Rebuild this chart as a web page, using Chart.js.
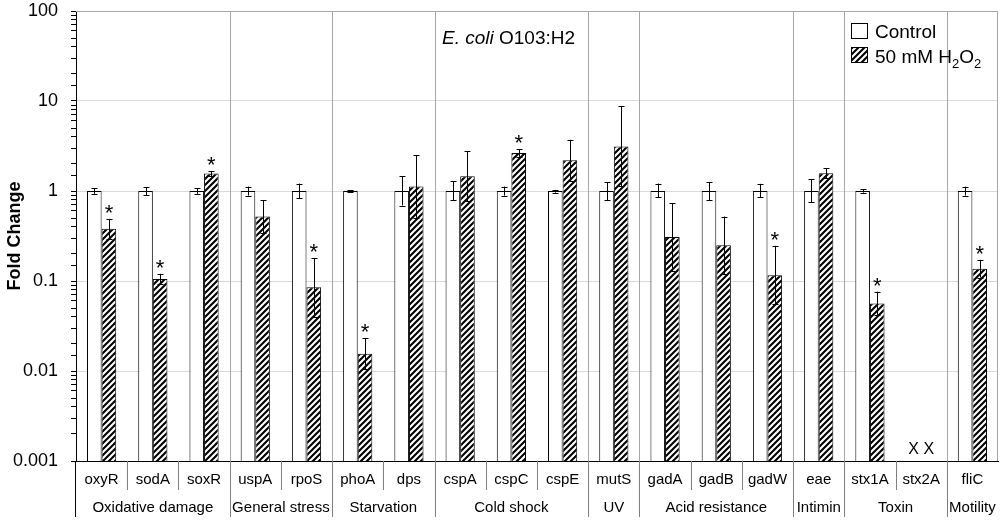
<!DOCTYPE html>
<html><head><meta charset="utf-8">
<script src="https://cdn.jsdelivr.net/npm/chart.js@4.4.0/dist/chart.umd.min.js"></script>
<style>html,body{margin:0;padding:0;background:#fff;}#wrap{width:1000px;height:520px;position:relative;}</style>
</head><body><div id="wrap"><canvas id="c" width="1000" height="520"></canvas></div>
<script>
const genes = ['oxyR','sodA','soxR','uspA','rpoS','phoA','dps','cspA','cspC','cspE','mutS','gadA','gadB','gadW','eae','stx1A','stx2A','fliC'];
const groupNames = ['Oxidative damage','General stress','Starvation','Cold shock','UV','Acid resistance','Intimin','Toxin','Motility'];
const groupSizes = [3,2,2,3,1,3,1,2,1];
const control     = [1,1,1,1,1,1,1,1,1,1,1,1,1,1,1,1,null,1];
const controlHigh = [1.07,1.10,1.07,1.12,1.21,1.02,1.45,1.29,1.12,1.03,1.25,1.21,1.26,1.20,1.36,1.04,null,1.12];
const controlLow  = [0.93,0.90,0.93,0.89,0.83,0.98,0.69,0.79,0.89,0.96,0.79,0.85,0.79,0.85,0.75,0.96,null,0.89];
const h2o2     = [0.38,0.105,1.56,0.52,0.085,0.0155,1.12,1.46,2.64,2.20,3.13,0.308,0.25,0.116,1.57,0.0563,null,0.137];
const h2o2High = [0.49,0.12,1.67,0.79,0.18,0.023,2.49,2.78,2.92,3.71,8.7,0.73,0.52,0.246,1.78,0.076,null,0.172];
const h2o2Low  = [0.295,0.092,1.46,0.342,0.040,0.0104,0.504,0.77,2.39,1.30,1.13,0.13,0.12,0.055,1.38,0.042,null,0.109];
const significant = [true,true,true,false,true,true,false,false,true,false,false,false,false,true,false,true,false,true];
const missingMark = [false,false,false,false,false,false,false,false,false,false,false,false,false,false,false,false,true,false];
const yTickLabels = ['0.001','0.01','0.1','1','10','100'];
const FONT = '"Liberation Sans", Arial, sans-serif';

function makeHatch(){
  const s = 6, c = document.createElement('canvas');
  c.width = s; c.height = s;
  const g = c.getContext('2d');
  g.fillStyle = '#fff'; g.fillRect(0,0,s,s);
  g.strokeStyle = '#000'; g.lineWidth = 2.1;
  g.beginPath();
  g.moveTo(-1, s+1); g.lineTo(s+1, -1);
  g.moveTo(-2, 2); g.lineTo(2, -2);
  g.moveTo(s-2, s+2); g.lineTo(s+2, s-2);
  g.stroke();
  return g.createPattern(c, 'repeat');
}
const ctx = document.getElementById('c').getContext('2d');
const hatch = makeHatch();

function isDecade(v){ const l = Math.log10(v); return Math.abs(l - Math.round(l)) < 1e-6; }

const deco = {
  id: 'deco',
  beforeDatasetsDraw(chart){
    const c = chart.ctx, a = chart.chartArea;
    const w = (a.right - a.left) / genes.length;
    c.save();
    c.lineWidth = 1;
    c.strokeStyle = '#a6a6a6';
    c.beginPath();
    c.moveTo(a.left, a.top + 0.5); c.lineTo(a.right, a.top + 0.5);
    c.moveTo(a.right - 0.5, a.top); c.lineTo(a.right - 0.5, a.bottom);
    c.stroke();
    let idx = 0;
    for (let g = 0; g < groupSizes.length - 1; g++){
      idx += groupSizes[g];
      const px = Math.round(a.left + idx * w) + 0.5;
      c.beginPath(); c.moveTo(px, a.top); c.lineTo(px, a.bottom); c.stroke();
    }
    c.restore();
  },
  afterDatasetsDraw(chart){
    const c = chart.ctx, y = chart.scales.y;
    c.save();
    c.strokeStyle = '#000'; c.lineWidth = 1;
    const sets = [[controlHigh, controlLow],[h2o2High, h2o2Low]];
    sets.forEach((s, di) => {
      const meta = chart.getDatasetMeta(di);
      meta.data.forEach((el, j) => {
        if (s[0][j] == null) return;
        const px = Math.round(el.x) + 0.5;
        const yh = y.getPixelForValue(s[0][j]);
        const yl = y.getPixelForValue(s[1][j]);
        c.beginPath();
        c.moveTo(px, yl); c.lineTo(px, yh);
        c.moveTo(px - 3, Math.round(yh) + 0.5); c.lineTo(px + 3, Math.round(yh) + 0.5);
        c.moveTo(px - 3, Math.round(yl) + 0.5); c.lineTo(px + 3, Math.round(yl) + 0.5);
        c.stroke();
      });
    });
    const m1 = chart.getDatasetMeta(1);
    c.fillStyle = '#000';
    c.font = '22px ' + FONT;
    c.textAlign = 'center'; c.textBaseline = 'alphabetic';
    significant.forEach((s, j) => {
      if (!s) return;
      const yh = y.getPixelForValue(h2o2High[j]);
      c.fillText('*', m1.data[j].x, yh + 1);
    });
    const xs = chart.scales.x;
    c.font = '16px ' + FONT;
    c.textBaseline = 'middle';
    missingMark.forEach((mm, j) => {
      if (!mm) return;
      c.fillText('X X', xs.getPixelForValue(j), 450);
    });
    c.restore();
  },
  afterDraw(chart){
    const c = chart.ctx, a = chart.chartArea;
    const w = (a.right - a.left) / genes.length;
    c.save();
    c.strokeStyle = '#000'; c.lineWidth = 1;
    c.beginPath();
    c.moveTo(a.left - 0.5, a.bottom); c.lineTo(a.left - 0.5, 517);
    c.stroke();
    c.strokeStyle = '#7f7f7f';
    let idx = 0;
    for (let g = 0; g < groupSizes.length; g++){
      for (let k = 1; k < groupSizes[g]; k++){
        const px = Math.round(a.left + (idx + k) * w) + 0.5;
        c.beginPath(); c.moveTo(px, a.bottom); c.lineTo(px, 490); c.stroke();
      }
      idx += groupSizes[g];
      if (g < groupSizes.length - 1){
        const px = Math.round(a.left + idx * w) + 0.5;
        c.beginPath(); c.moveTo(px, a.bottom); c.lineTo(px, 517); c.stroke();
      }
    }
    c.fillStyle = '#000';
    c.font = '15px ' + FONT;
    c.textAlign = 'center'; c.textBaseline = 'middle';
    idx = 0;
    groupNames.forEach((n, g) => {
      const cx = a.left + (idx + groupSizes[g] / 2) * w;
      c.fillText(n, cx, 508);
      idx += groupSizes[g];
    });
    c.textAlign = 'left'; c.textBaseline = 'alphabetic';
    c.font = 'italic 19px ' + FONT;
    const e = 'E. coli';
    const ew = c.measureText(e).width;
    c.font = '19px ' + FONT;
    const sw = c.measureText(' ').width;
    const startX = 499 - sw - ew;
    c.font = 'italic 19px ' + FONT;
    c.fillText(e, startX, 44);
    c.font = '19px ' + FONT;
    c.fillText(' O103:H2', startX + ew, 44);
    c.lineWidth = 1; c.strokeStyle = '#000';
    c.fillStyle = '#fff';
    c.fillRect(851.5, 23.5, 16, 15); c.strokeRect(851.5, 23.5, 16, 15);
    c.fillStyle = hatch;
    c.fillRect(851.5, 47.5, 16, 15); c.strokeRect(851.5, 47.5, 16, 15);
    c.fillStyle = '#000';
    c.font = '19px ' + FONT;
    c.fillText('Control', 875, 38);
    let tx = 875;
    const parts = [['50 mM H', false], ['2', true], ['O', false], ['2', true]];
    parts.forEach(([t, sub]) => {
      c.font = (sub ? '13px ' : '19px ') + FONT;
      c.fillText(t, tx, sub ? 68 : 63);
      tx += c.measureText(t).width;
    });
    c.restore();
  }
};

new Chart(ctx, {
  type: 'bar',
  data: {
    labels: genes,
    datasets: [
      { label: 'Control', data: control, backgroundColor: '#fff', borderColor: '#000', borderWidth: 1,
        categoryPercentage: 0.57, barPercentage: 1.0 },
      { label: '50 mM H2O2', data: h2o2, backgroundColor: hatch, borderColor: '#000', borderWidth: 1,
        categoryPercentage: 0.57, barPercentage: 1.0 }
    ]
  },
  options: {
    responsive: false, animation: false, devicePixelRatio: 1,
    layout: { padding: { top: 11, right: 2, left: 0, bottom: 0 } },
    plugins: { legend: { display: false }, tooltip: { enabled: false } },
    scales: {
      x: {
        grid: { display: false, drawTicks: false },
        border: { display: true, color: '#000', width: 1 },
        ticks: { color: '#000', font: { family: FONT, size: 15 }, padding: 10, maxRotation: 0, autoSkip: false },
        afterFit(s){ s.height = 59; s.paddingLeft = 0; s.paddingRight = 0; }
      },
      y: {
        type: 'logarithmic', min: 0.001, max: 100,
        border: { display: true, color: '#000', width: 1 },
        grid: {
          color: (c) => (c.tick && isDecade(c.tick.value) && c.tick.value > 0.0015 && c.tick.value < 90) ? '#d9d9d9' : 'rgba(0,0,0,0)',
          tickColor: '#000', tickLength: 5, drawTicks: true
        },
        ticks: {
          autoSkip: false, color: '#000', padding: 13,
          font: { family: FONT, size: 18 },
          callback: (v) => isDecade(v) ? yTickLabels[Math.round(Math.log10(v)) + 3] : ''
        },
        title: { display: true, text: 'Fold Change', color: '#000', font: { family: FONT, size: 18, weight: 'bold' }, padding: { top: 4, bottom: 0 } },
        afterFit(s){ s.width = 76; s.paddingTop = 0; s.paddingBottom = 0; }
      }
    }
  },
  plugins: [deco]
});
</script></body></html>
